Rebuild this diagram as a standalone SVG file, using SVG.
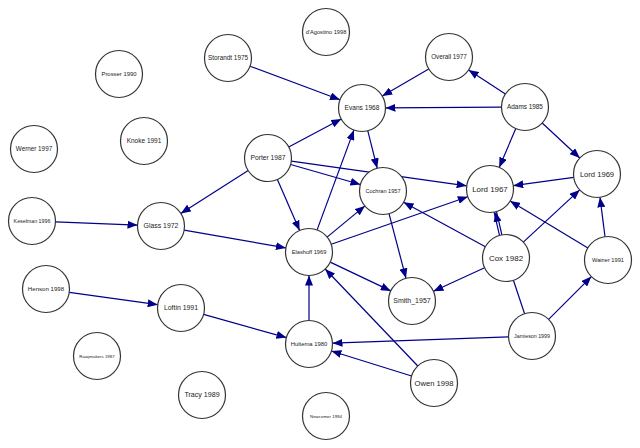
<svg xmlns="http://www.w3.org/2000/svg" width="640" height="448" viewBox="0 0 640 448">
<style>
.n circle{fill:#fff;stroke:#333;stroke-width:1.2}
.n text{font-family:"Liberation Sans",Arial,sans-serif;fill:#222;text-anchor:middle}
#edges line,#edges path{stroke:#00008B;stroke-width:1.2;fill:none}
#edges .a{marker-end:url(#arr)}
</style>
<defs>
<marker id="arr" markerWidth="10" markerHeight="8" refX="10" refY="4" orient="auto" markerUnits="userSpaceOnUse"><path d="M0,0 L10,4 L0,8 z" fill="#00008B"/></marker>
</defs>
<rect width="640" height="448" fill="#fff"/>
<g id="edges">
<line class="a" x1="250.0" y1="66.2" x2="340.0" y2="99.8"/>
<line class="a" x1="288.7" y1="147.0" x2="341.3" y2="119.0"/>
<line class="a" x1="428.7" y1="68.9" x2="382.3" y2="96.1"/>
<line class="a" x1="501.5" y1="107.1" x2="385.5" y2="107.9"/>
<line class="a" x1="505.4" y1="94.1" x2="468.6" y2="69.9"/>
<line class="a" x1="515.8" y1="128.6" x2="499.2" y2="167.4"/>
<line class="a" x1="542.2" y1="123.0" x2="579.8" y2="158.0"/>
<line class="a" x1="367.8" y1="130.8" x2="377.2" y2="168.2"/>
<line class="a" x1="317.1" y1="229.9" x2="353.9" y2="130.1"/>
<line class="a" x1="248.2" y1="170.6" x2="180.8" y2="213.4"/>
<line class="a" x1="290.6" y1="164.5" x2="360.4" y2="184.5"/>
<line class="a" x1="291.3" y1="161.2" x2="466.7" y2="185.8"/>
<line class="a" x1="277.4" y1="179.5" x2="299.6" y2="230.5"/>
<line class="a" x1="55.5" y1="221.9" x2="137.5" y2="225.1"/>
<line class="a" x1="184.1" y1="230.1" x2="285.9" y2="247.9"/>
<line class="a" x1="69.3" y1="292.3" x2="157.7" y2="304.7"/>
<line class="a" x1="203.6" y1="314.4" x2="286.4" y2="337.6"/>
<line class="a" x1="309" y1="320.5" x2="309" y2="275.5"/>
<line class="a" x1="327.1" y1="237.1" x2="364.9" y2="205.9"/>
<line class="a" x1="331.2" y1="244.3" x2="467.8" y2="196.7"/>
<line class="a" x1="330.2" y1="262.1" x2="390.8" y2="290.9"/>
<line class="a" x1="389.0" y1="213.7" x2="406.0" y2="278.3"/>
<line class="a" x1="485.4" y1="246.8" x2="403.6" y2="202.2"/>
<line x1="501.9" y1="234.8" x2="496.5" y2="211.6"/>
<line x1="499.5" y1="235.4" x2="494.1" y2="212.2"/>
<path d="M500.7,235.1 L495.3,211.9" style="stroke:none;marker-end:url(#arr)"/>
<line class="a" x1="523.3" y1="242.1" x2="579.7" y2="189.9"/>
<line class="a" x1="484.6" y1="267.8" x2="433.4" y2="291.2"/>
<line class="a" x1="587.9" y1="247.9" x2="510.1" y2="201.1"/>
<line class="a" x1="605.0" y1="236.7" x2="600.0" y2="197.3"/>
<line class="a" x1="573.7" y1="177.3" x2="513.3" y2="185.7"/>
<line class="a" x1="548.6" y1="319.4" x2="591.4" y2="276.6"/>
<line x1="524.6" y1="313.7" x2="513.4" y2="280.3"/>
<line class="a" x1="508.5" y1="336.8" x2="332.5" y2="343.2"/>
<line class="a" x1="411.6" y1="376.0" x2="331.4" y2="351.0"/>
<line class="a" x1="417.8" y1="366.0" x2="325.2" y2="269.0"/>
</g>
<g id="prosser" class="n"><circle cx="119" cy="74" r="23.5"/><text x="119" y="74" dy="0.35em" font-size="5.9">Prosser 1990</text></g>
<g id="knoke" class="n"><circle cx="144" cy="141" r="23.5"/><text x="144" y="141" dy="0.35em" font-size="6.5">Knoke 1991</text></g>
<g id="werner" class="n"><circle cx="34" cy="149" r="23.5"/><text x="34" y="149" dy="0.35em" font-size="6.3">Werner 1997</text></g>
<g id="storandt" class="n"><circle cx="228" cy="58" r="23.5"/><text x="228" y="58" dy="0.35em" font-size="6.4">Storandt 1975</text></g>
<g id="dagostino" class="n"><circle cx="326" cy="32" r="23.5"/><text x="326" y="32" dy="0.35em" font-size="5.7">d'Agostino 1998</text></g>
<g id="evans" class="n"><circle cx="362" cy="108" r="23.5"/><text x="362" y="108" dy="0.35em" font-size="6.6">Evans 1968</text></g>
<g id="porter" class="n"><circle cx="268" cy="158" r="23.5"/><text x="268" y="158" dy="0.35em" font-size="6.7">Porter 1987</text></g>
<g id="overall" class="n"><circle cx="449" cy="57" r="23.5"/><text x="449" y="57" dy="0.35em" font-size="6.3">Overall 1977</text></g>
<g id="adams" class="n"><circle cx="525" cy="107" r="23.5"/><text x="525" y="107" dy="0.35em" font-size="6.4">Adams 1985</text></g>
<g id="lord1969" class="n"><circle cx="597" cy="174" r="23.5"/><text x="597" y="174" dy="0.35em" font-size="7.6">Lord 1969</text></g>
<g id="lord1967" class="n"><circle cx="490" cy="189" r="23.5"/><text x="490" y="189" dy="0.35em" font-size="7.9">Lord 1967</text></g>
<g id="cox" class="n"><circle cx="506" cy="258" r="23.5"/><text x="506" y="258" dy="0.35em" font-size="8">Cox 1982</text></g>
<g id="wainer" class="n"><circle cx="608" cy="260" r="23.5"/><text x="608" y="260" dy="0.35em" font-size="5.7">Wainer 1991</text></g>
<g id="cochran" class="n"><circle cx="383" cy="191" r="23.5"/><text x="383" y="191" dy="0.35em" font-size="5.6">Cochran 1957</text></g>
<g id="elashoff" class="n"><circle cx="309" cy="252" r="23.5"/><text x="309" y="252" dy="0.35em" font-size="5.7">Elashoff 1969</text></g>
<g id="smith" class="n"><circle cx="412" cy="301" r="23.5"/><text x="412" y="301" dy="0.35em" font-size="7">Smith_1957</text></g>
<g id="glass" class="n"><circle cx="161" cy="226" r="23.5"/><text x="161" y="226" dy="0.35em" font-size="6.9">Glass 1972</text></g>
<g id="keselman" class="n"><circle cx="32" cy="221" r="23.5"/><text x="32" y="221" dy="0.35em" font-size="5.3">Keselman 1996</text></g>
<g id="henson" class="n"><circle cx="46" cy="289" r="23.5"/><text x="46" y="289" dy="0.35em" font-size="6.1">Henson 1998</text></g>
<g id="loftin" class="n"><circle cx="181" cy="308" r="23.5"/><text x="181" y="308" dy="0.35em" font-size="6.9">Loftin 1991</text></g>
<g id="raaijmakers" class="n"><circle cx="97" cy="356" r="23.5"/><text x="97" y="356" dy="0.35em" font-size="4.4">Raaijmakers 1987</text></g>
<g id="tracy" class="n"><circle cx="202" cy="395" r="23.5"/><text x="202" y="395" dy="0.35em" font-size="7.1">Tracy 1989</text></g>
<g id="hultema" class="n"><circle cx="309" cy="344" r="23.5"/><text x="309" y="344" dy="0.35em" font-size="5.9">Hultema 1980</text></g>
<g id="newcomer" class="n"><circle cx="326" cy="416" r="23.5"/><text x="326" y="416" dy="0.35em" font-size="4.4">Newcomer 1994</text></g>
<g id="jamieson" class="n"><circle cx="532" cy="336" r="23.5"/><text x="532" y="336" dy="0.35em" font-size="5.3">Jamieson 1999</text></g>
<g id="owen" class="n"><circle cx="434" cy="383" r="23.5"/><text x="434" y="383" dy="0.35em" font-size="7.6">Owen 1998</text></g>
</svg>
